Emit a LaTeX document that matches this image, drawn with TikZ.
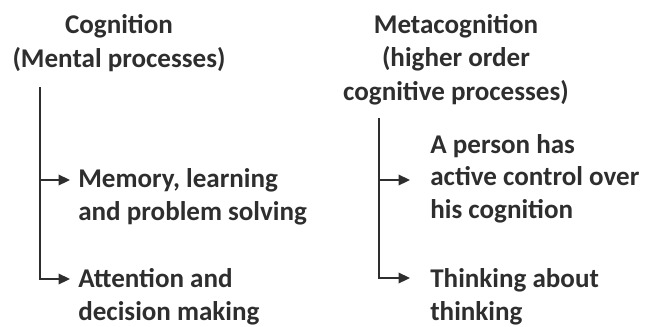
\documentclass[tikz,border=0pt]{standalone}
\usepackage{fontspec}
\setmainfont{Carlito}
\usetikzlibrary{arrows.meta,calc}
\definecolor{ink}{HTML}{2E2E2E}
\tikzset{
  heading/.style={align=center, inner sep=0pt, anchor=base, text=ink,
    font=\bfseries\fontsize{15.4}{18.8}\selectfont},
  item/.style={align=left, inner sep=0pt, anchor=base west, text=ink,
    font=\bfseries\fontsize{15.4}{18.4}\selectfont},
  branch/.style={draw=ink, line width=1pt, -{Triangle[length=6.5pt,width=6pt]}}
}

\begin{document}
\begin{tikzpicture}[x=0.02cm,y=-0.02cm]
		%%%%% START %%%%%
		\useasboundingbox (0,0) rectangle (654,326);
		
		% left column (base = last line)
		\node[heading] (cog) at (119,67) {Cognition\\(Mental processes)};
		\node[item] (mem) at (78,220) {Memory, learning\\and problem solving};
		\node[item] (att) at (78,320) {Attention and\\decision making};
		\coordinate (cogtop) at (40,87);
		\draw[branch] (cogtop) |- ($(mem.base west)+(-8,-40)$);
		\draw[branch] (cogtop) |- ($(att.base west)+(-8,-41)$);
		
		% right column
		\node[heading] (meta) at (456,100) {Metacognition\\(higher order\\cognitive processes)};
		\node[item] (ctrl) at (430,218) {A person has\\active control over\\his cognition};
		\node[item] (think) at (430,320) {Thinking about\\thinking};
		\coordinate (metatop) at (379,118);
		\draw[branch] (metatop) |- ($(ctrl.base west)+(-20,-38)$);
		\draw[branch] (metatop) |- ($(think.base west)+(-20,-42)$);
		%%%%% END %%%%%
	\end{tikzpicture}
\end{document}
